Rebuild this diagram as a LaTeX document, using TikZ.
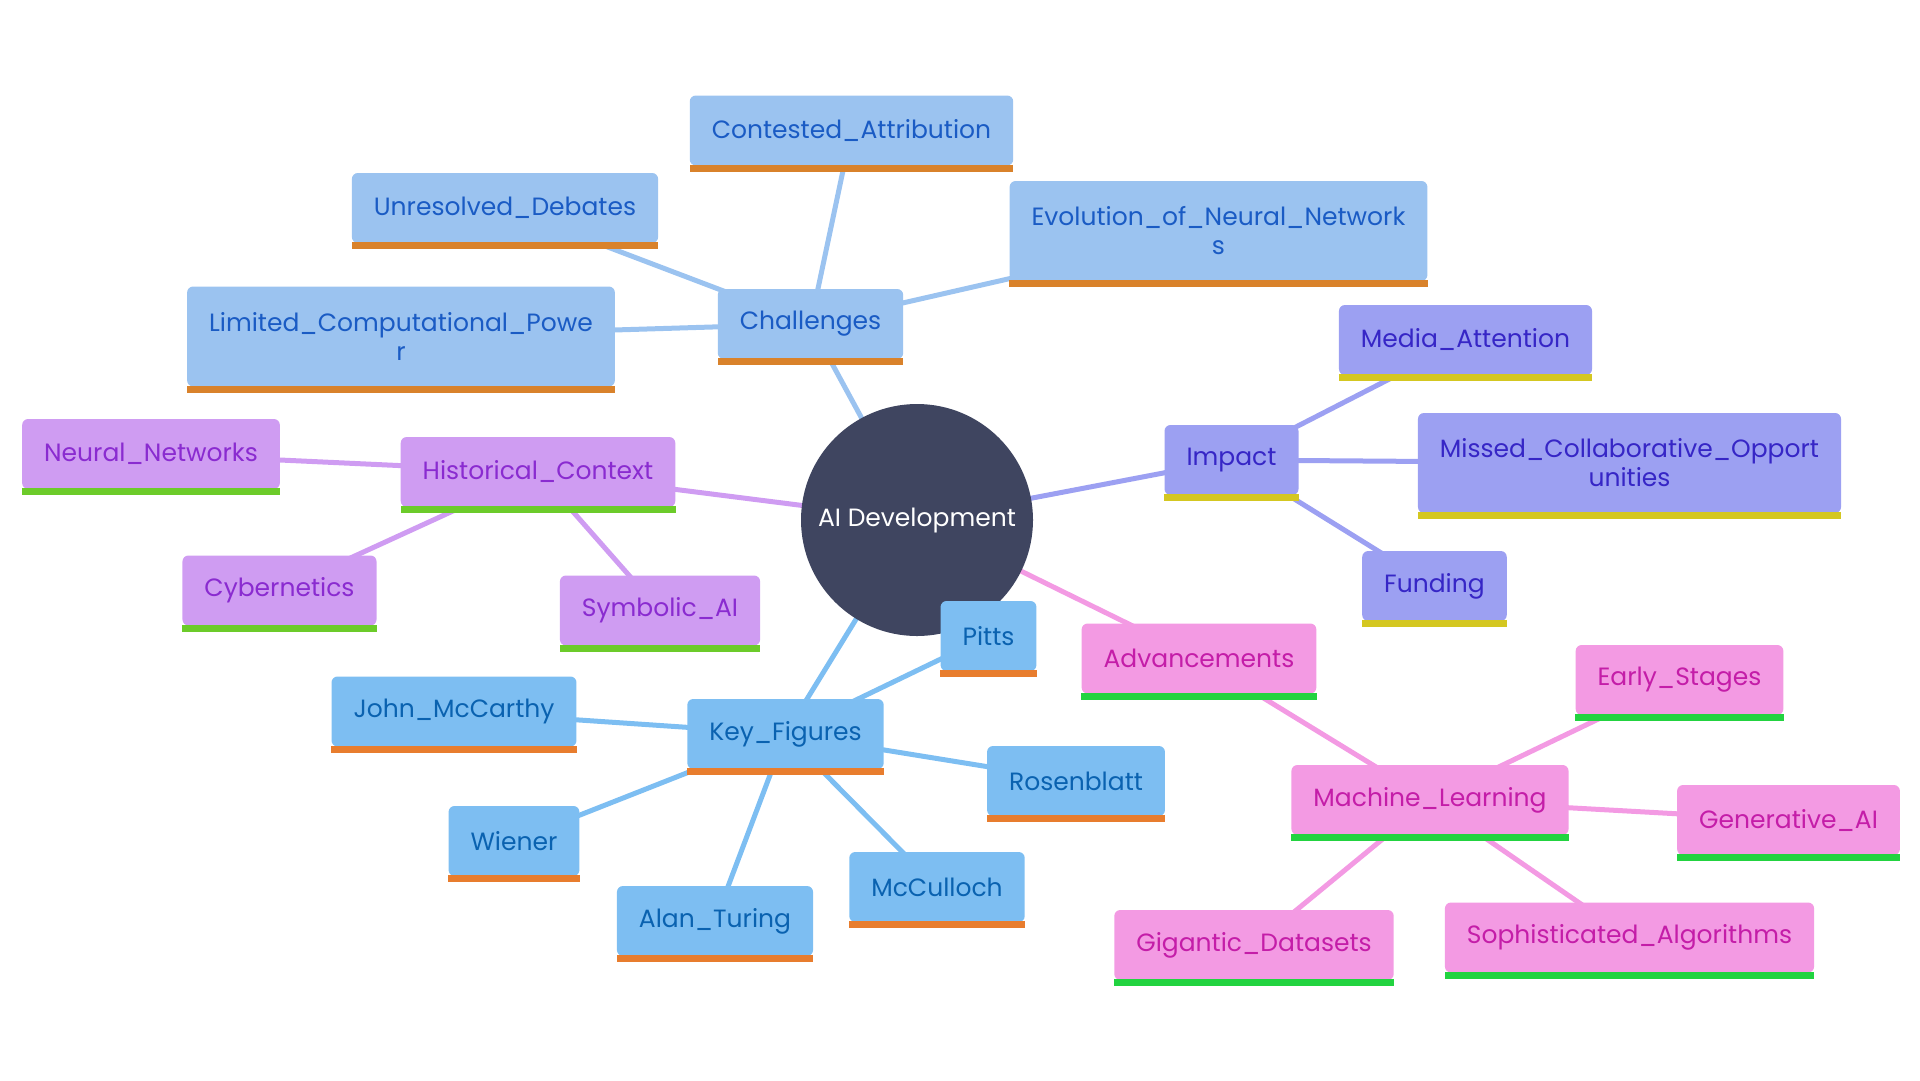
\documentclass[tikz,border=0pt]{standalone}
\usepackage{fontspec}
\setmainfont{Poppins}
\usetikzlibrary{backgrounds}
\definecolor{chalF}{HTML}{9BC3F0}
\definecolor{chalT}{HTML}{1A5BC4}
\definecolor{chalB}{HTML}{D9822B}
\definecolor{keyF}{HTML}{7DBEF2}
\definecolor{keyT}{HTML}{0A62B0}
\definecolor{keyB}{HTML}{E87D2E}
\definecolor{histF}{HTML}{CF9CF2}
\definecolor{histT}{HTML}{8A2BD0}
\definecolor{histB}{HTML}{6CCB2A}
\definecolor{impF}{HTML}{9CA0F2}
\definecolor{impT}{HTML}{3626C6}
\definecolor{impB}{HTML}{D4C721}
\definecolor{advF}{HTML}{F39AE3}
\definecolor{advT}{HTML}{C41DA8}
\definecolor{advB}{HTML}{22D340}
\definecolor{hub}{HTML}{3F4560}

\begin{document}
\begin{tikzpicture}[x=1pt,y=-1pt,font=\fontsize{25}{29}\selectfont,
  base/.style={rounded corners=6pt,inner xsep=22pt,minimum height=70pt,align=center,yshift=3pt},
  chal/.style={base,fill=chalF,text=chalT},
  key/.style={base,fill=keyF,text=keyT},
  hist/.style={base,fill=histF,text=histT},
  imp/.style={base,fill=impF,text=impT},
  adv/.style={base,fill=advF,text=advT},
  tall/.style={minimum height=100pt},
  link/.style={line width=5pt,draw=#1}]
  \useasboundingbox (0,0) rectangle (1920,1080);
  % centre
  \node[circle,fill=hub,text=white,minimum size=232pt,inner sep=0pt] (ai) at (917,520) {AI Development};
  % challenges
  \node[chal] (chal) at (810.5,327) {Challenges};
  \node[chal] (contest) at (851.5,133.5) {Contested\_Attribution};
  \node[chal] (debates) at (505,211) {Unresolved\_Debates};
  \node[chal,tall] (evol) at (1218.5,234) {Evolution\_of\_Neural\_Network\\s};
  \node[chal,tall] (power) at (401,339.5) {Limited\_Computational\_Powe\\r};
  % impact
  \node[imp] (impact) at (1231.5,463) {Impact};
  \node[imp] (media) at (1465.5,343) {Media\_Attention};
  \node[imp,tall] (missed) at (1629.5,466) {Missed\_Collaborative\_Opport\\unities};
  \node[imp] (fund) at (1434.5,589) {Funding};
  % historical context
  \node[hist] (hist) at (538,475) {Historical\_Context};
  \node[hist] (nn) at (151,457) {Neural\_Networks};
  \node[hist] (cyber) at (279.5,593.5) {Cybernetics};
  \node[hist] (symb) at (660,613.5) {Symbolic\_AI};
  % key figures
  \node[key] (keyfig) at (785.5,737) {Key\_Figures};
  \node[key] (pitts) at (988.5,639) {Pitts};
  \node[key] (mccarthy) at (454,714.5) {John\_McCarthy};
  \node[key] (rosen) at (1076,784) {Rosenblatt};
  \node[key] (wiener) at (514,844) {Wiener};
  \node[key] (turing) at (715,924) {Alan\_Turing};
  \node[key] (mcculloch) at (937,890) {McCulloch};
  % advancements
  \node[adv] (adv) at (1199,661.5) {Advancements};
  \node[adv] (ml) at (1430,803) {Machine\_Learning};
  \node[adv] (early) at (1679.5,683) {Early\_Stages};
  \node[adv] (gen) at (1788.5,823) {Generative\_AI};
  \node[adv] (data) at (1254,948) {Gigantic\_Datasets};
  \node[adv] (algo) at (1629.5,940.5) {Sophisticated\_Algorithms};
  % bottom bars
  \foreach \n/\c in {chal/chalB,contest/chalB,debates/chalB,evol/chalB,power/chalB,
      impact/impB,media/impB,missed/impB,fund/impB,hist/histB,nn/histB,cyber/histB,symb/histB,
      keyfig/keyB,pitts/keyB,mccarthy/keyB,rosen/keyB,wiener/keyB,turing/keyB,mcculloch/keyB,
      adv/advB,ml/advB,early/advB,gen/advB,data/advB,algo/advB}
    \fill[\c] ([yshift=-6pt]\n.south west) rectangle ([yshift=1pt]\n.south east);
  \begin{pgfonlayer}{background}
    \draw[link=chalF] (ai.center) -- (chal.center);
    \foreach \n in {contest,debates,evol,power} \draw[link=chalF] (chal.center) -- (\n.center);
    \draw[link=impF] (ai.center) -- (impact.center);
    \foreach \n in {media,missed,fund} \draw[link=impF] (impact.center) -- (\n.center);
    \draw[link=histF] (ai.center) -- (hist.center);
    \foreach \n in {nn,cyber,symb} \draw[link=histF] (hist.center) -- (\n.center);
    \draw[link=keyF] (ai.center) -- (keyfig.center);
    \foreach \n in {pitts,mccarthy,rosen,wiener,turing,mcculloch} \draw[link=keyF] (keyfig.center) -- (\n.center);
    \draw[link=advF] (ai.center) -- (adv.center);
    \draw[link=advF] (adv.center) -- (ml.center);
    \foreach \n in {early,gen,data,algo} \draw[link=advF] (ml.center) -- (\n.center);
  \end{pgfonlayer}
\end{tikzpicture}
\end{document}
